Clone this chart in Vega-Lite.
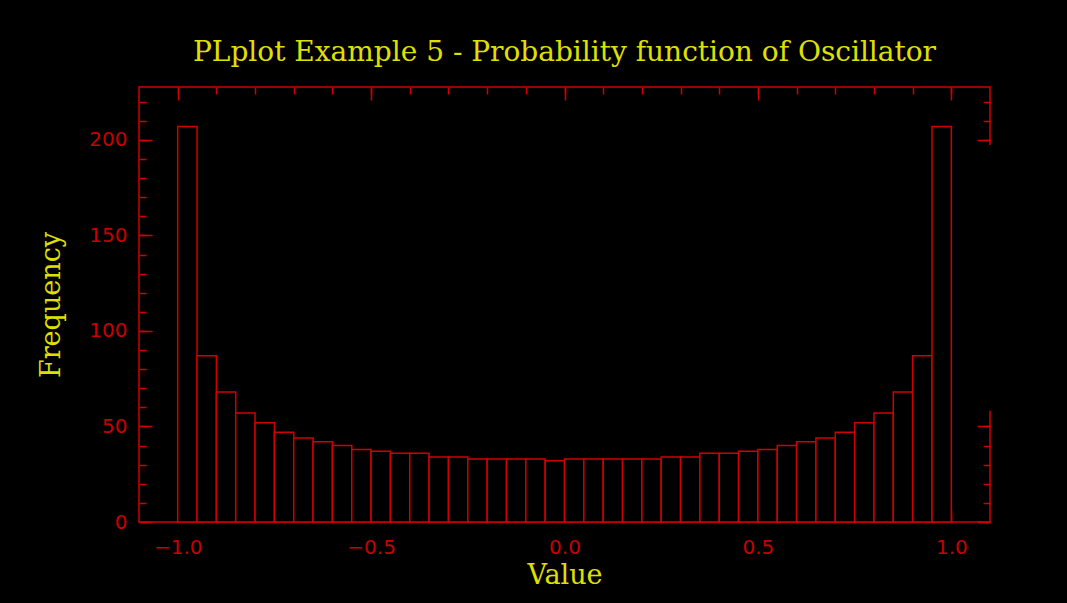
{
  "$schema": "https://vega.github.io/schema/vega-lite/v6.json",
  "autosize": "none",
  "width": 851,
  "height": 435,
  "padding": {"left": 139, "top": 87, "right": 77, "bottom": 81},
  "background": "black",
  "config": {
    "view": {"stroke": "#d00000", "strokeWidth": 1.5},
    "axis": {"domain": false, "grid": false, "tickColor": "#d00000", "tickWidth": 1.5,
             "labelColor": "#c80000", "labelFont": "DejaVu Sans", "labelFontSize": 20,
             "titleColor": "#e0e000", "titleFont": "DejaVu Serif", "titleFontSize": 27, "titleFontWeight": "normal"}
  },
  "title": {"text": "PLplot Example 5 - Probability function of Oscillator", "font": "DejaVu Serif", "fontSize": 28, "fontWeight": "normal", "color": "#e0e000", "anchor": "middle", "offset": 19},
  "datasets": {
    "hist": [
      {"x0": -1.0, "x1": -0.95, "count": 207},
      {"x0": -0.95, "x1": -0.9, "count": 87},
      {"x0": -0.9, "x1": -0.85, "count": 68},
      {"x0": -0.85, "x1": -0.8, "count": 57},
      {"x0": -0.8, "x1": -0.75, "count": 52},
      {"x0": -0.75, "x1": -0.7, "count": 47},
      {"x0": -0.7, "x1": -0.65, "count": 44},
      {"x0": -0.65, "x1": -0.6, "count": 42},
      {"x0": -0.6, "x1": -0.55, "count": 40},
      {"x0": -0.55, "x1": -0.5, "count": 38},
      {"x0": -0.5, "x1": -0.45, "count": 37},
      {"x0": -0.45, "x1": -0.4, "count": 36},
      {"x0": -0.4, "x1": -0.35, "count": 36},
      {"x0": -0.35, "x1": -0.3, "count": 34},
      {"x0": -0.3, "x1": -0.25, "count": 34},
      {"x0": -0.25, "x1": -0.2, "count": 33},
      {"x0": -0.2, "x1": -0.15, "count": 33},
      {"x0": -0.15, "x1": -0.1, "count": 33},
      {"x0": -0.1, "x1": -0.05, "count": 33},
      {"x0": -0.05, "x1": 0.0, "count": 32},
      {"x0": 0.0, "x1": 0.05, "count": 33},
      {"x0": 0.05, "x1": 0.1, "count": 33},
      {"x0": 0.1, "x1": 0.15, "count": 33},
      {"x0": 0.15, "x1": 0.2, "count": 33},
      {"x0": 0.2, "x1": 0.25, "count": 33},
      {"x0": 0.25, "x1": 0.3, "count": 34},
      {"x0": 0.3, "x1": 0.35, "count": 34},
      {"x0": 0.35, "x1": 0.4, "count": 36},
      {"x0": 0.4, "x1": 0.45, "count": 36},
      {"x0": 0.45, "x1": 0.5, "count": 37},
      {"x0": 0.5, "x1": 0.55, "count": 38},
      {"x0": 0.55, "x1": 0.6, "count": 40},
      {"x0": 0.6, "x1": 0.65, "count": 42},
      {"x0": 0.65, "x1": 0.7, "count": 44},
      {"x0": 0.7, "x1": 0.75, "count": 47},
      {"x0": 0.75, "x1": 0.8, "count": 52},
      {"x0": 0.8, "x1": 0.85, "count": 57},
      {"x0": 0.85, "x1": 0.9, "count": 68},
      {"x0": 0.9, "x1": 0.95, "count": 87},
      {"x0": 0.95, "x1": 1.0, "count": 207}
    ],
    "gap": [
      {"x0": 1.06, "x1": 1.115, "lo": 58.2, "hi": 197.4}
    ]
  },
  "data": {"name": "hist"},
  "layer": [
    {
      "mark": {"type": "rect", "fill": "black", "stroke": "#d00000", "strokeWidth": 1.5},
      "encoding": {
        "x": {"field": "x0", "type": "quantitative", "scale": {"domain": [-1.1, 1.1], "nice": false, "zero": false},
              "axis": {"orient": "bottom", "offset": -13, "tickSize": 13, "values": [-1, -0.5, 0, 0.5, 1], "format": ".1f", "labelPadding": 15, "title": "Value", "titlePadding": 5}},
        "x2": {"field": "x1"},
        "y": {"field": "count", "type": "quantitative", "scale": {"domain": [0, 227.7], "nice": false, "zero": false},
              "axis": {"orient": "left", "offset": -13, "tickSize": 13, "values": [0, 50, 100, 150, 200], "labelPadding": 12, "title": "Frequency", "titlePadding": 23}},
        "y2": {"datum": 0}
      }
    },
    {
      "mark": {"type": "point", "opacity": 0},
      "encoding": {
        "x": {"field": "x0", "type": "quantitative", "scale": {"domain": [-1.1, 1.1], "nice": false, "zero": false},
              "axis": {"orient": "top", "offset": -13, "tickSize": 13, "values": [-1, -0.5, 0, 0.5, 1], "labels": false, "title": null}},
        "y": {"field": "count", "type": "quantitative", "scale": {"domain": [0, 227.7], "nice": false, "zero": false},
              "axis": {"orient": "right", "offset": -13, "tickSize": 13, "values": [0, 50, 100, 150, 200], "labels": false, "title": null}}
      }
    },
    {
      "mark": {"type": "point", "opacity": 0},
      "encoding": {
        "x": {"field": "x0", "type": "quantitative", "scale": {"domain": [-1.1, 1.1], "nice": false, "zero": false},
              "axis": {"orient": "bottom", "offset": -7, "tickSize": 7, "values": [-1, -0.9, -0.8, -0.7, -0.6, -0.5, -0.4, -0.3, -0.2, -0.1, 0, 0.1, 0.2, 0.3, 0.4, 0.5, 0.6, 0.7, 0.8, 0.9, 1], "labels": false, "title": null}},
        "y": {"field": "count", "type": "quantitative", "scale": {"domain": [0, 227.7], "nice": false, "zero": false},
              "axis": {"orient": "left", "offset": -7, "tickSize": 7, "values": [0, 10, 20, 30, 40, 50, 60, 70, 80, 90, 100, 110, 120, 130, 140, 150, 160, 170, 180, 190, 200, 210, 220], "labels": false, "title": null}}
      }
    },
    {
      "mark": {"type": "point", "opacity": 0},
      "encoding": {
        "x": {"field": "x0", "type": "quantitative", "scale": {"domain": [-1.1, 1.1], "nice": false, "zero": false},
              "axis": {"orient": "top", "offset": -7, "tickSize": 7, "values": [-1, -0.9, -0.8, -0.7, -0.6, -0.5, -0.4, -0.3, -0.2, -0.1, 0, 0.1, 0.2, 0.3, 0.4, 0.5, 0.6, 0.7, 0.8, 0.9, 1], "labels": false, "title": null}},
        "y": {"field": "count", "type": "quantitative", "scale": {"domain": [0, 227.7], "nice": false, "zero": false},
              "axis": {"orient": "right", "offset": -7, "tickSize": 7, "values": [0, 10, 20, 30, 40, 50, 60, 70, 80, 90, 100, 110, 120, 130, 140, 150, 160, 170, 180, 190, 200, 210, 220], "labels": false, "title": null}}
      }
    },
    {
      "data": {"name": "gap"},
      "mark": {"type": "rect", "fill": "black", "clip": false},
      "encoding": {
        "x": {"field": "x0", "type": "quantitative", "scale": {"domain": [-1.1, 1.1], "nice": false, "zero": false}, "axis": null},
        "x2": {"field": "x1"},
        "y": {"field": "lo", "type": "quantitative", "scale": {"domain": [0, 227.7], "nice": false, "zero": false}, "axis": null},
        "y2": {"field": "hi"}
      }
    }
  ],
  "resolve": {"axis": {"x": "independent", "y": "independent"}}
}
